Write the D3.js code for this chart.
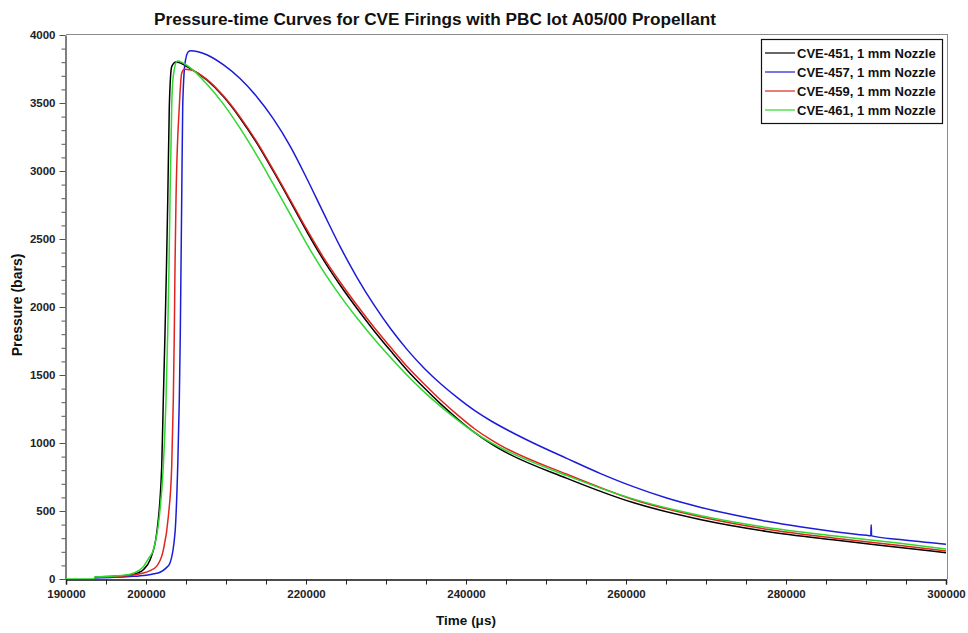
<!DOCTYPE html>
<html>
<head>
<meta charset="utf-8">
<script src="https://cdn.jsdelivr.net/npm/d3@7/dist/d3.min.js"></script>
<style>
  html, body { margin: 0; padding: 0; background: #fff; }
  svg { display: block; }
  text { font-family: "Liberation Sans", Arial, Helvetica, sans-serif; font-weight: bold; }
</style>
</head>
<body>
<svg id="chart" width="968" height="633"></svg>
<script>
// Pressure-time records, [time in microseconds, pressure in bars]
const cve451 = [
  [193600, 15], [196000, 20], [198000, 30], [199000, 45], [199700, 70],
  [200500, 140], [201338, 338], [201963, 826], [202163, 1316], [202375, 1809],
  [202560, 2296], [202720, 2787], [202913, 3473], [203213, 3767], [203750, 3801],
  [205500, 3755], [207600, 3669], [209700, 3545], [211750, 3390], [213800, 3210],
  [215900, 3000], [218000, 2780], [220100, 2555], [222200, 2345], [224300, 2158],
  [226400, 1987], [228500, 1826], [230600, 1676], [232700, 1532], [234800, 1404],
  [236900, 1284], [239000, 1175], [241100, 1076], [243200, 992], [244250, 955],
  [252625, 740], [260875, 562], [269250, 438], [277625, 350], [285875, 288],
  [294250, 232], [300000, 193]
];
const cve457 = [
  [193600, 8], [196000, 12], [198000, 18], [200000, 28], [201000, 38],
  [201750, 50], [202500, 80], [203000, 118], [203625, 338], [203963, 826],
  [204163, 1316], [204288, 1809], [204375, 2296], [204463, 2787], [204588, 3473],
  [204875, 3792], [205288, 3877], [205588, 3885], [207600, 3855], [209700, 3780],
  [211750, 3680], [213800, 3550], [215900, 3385], [218000, 3185], [220100, 2945],
  [222200, 2690], [224300, 2440], [226400, 2215], [228500, 2015], [230600, 1838],
  [232700, 1683], [234800, 1548], [236900, 1432], [239000, 1330], [241100, 1238],
  [243200, 1160], [245300, 1092], [248413, 1000], [252588, 887], [256750, 777],
  [260913, 679], [265088, 595], [269250, 528], [273413, 472], [277588, 424],
  [281750, 384], [285913, 350], [290088, 321], [290600, 318], [290650, 398],
  [290700, 317], [294250, 290], [300000, 255]
];
const cve459 = [
  [193600, 12], [196000, 16], [198000, 25], [199500, 42], [200500, 62],
  [201338, 95], [202163, 213], [202788, 458], [203213, 826], [203413, 1316],
  [203538, 1809], [203625, 2296], [203750, 2787], [204163, 3473], [204463, 3718],
  [204788, 3748], [205500, 3745], [207600, 3674], [209700, 3551], [211750, 3398],
  [213800, 3219], [215900, 3010], [218000, 2792], [220100, 2570], [222200, 2363],
  [224300, 2180], [226400, 2011], [228500, 1851], [230600, 1702], [232700, 1559],
  [234800, 1432], [236900, 1312], [239000, 1203], [241100, 1103], [243200, 1021],
  [244250, 985], [252625, 770], [260875, 585], [269250, 458], [277625, 366],
  [285875, 302], [294250, 246], [300000, 206]
];
const cve461 = [
  [190000, 0], [193500, 0], [193600, 15], [196000, 22], [198000, 35],
  [199000, 60], [199663, 90], [200300, 150], [200913, 213], [201663, 458],
  [202163, 826], [202500, 1316], [202713, 1809], [202875, 2296], [203000, 2787],
  [203213, 3473], [203413, 3700], [203913, 3809], [205500, 3760], [207600, 3639],
  [209700, 3490], [211750, 3315], [213800, 3120], [215900, 2905], [218000, 2685],
  [220100, 2463], [222200, 2260], [224300, 2080], [226400, 1917], [228500, 1766],
  [230600, 1626], [232700, 1494], [234800, 1374], [236900, 1266], [239000, 1167],
  [241100, 1076], [243200, 1000], [244250, 967], [252625, 760], [260875, 589],
  [269250, 467], [277625, 379], [285875, 318], [294250, 262], [300000, 221]
];

const seriesNames = ["CVE-451, 1 mm Nozzle", "CVE-457, 1 mm Nozzle", "CVE-459, 1 mm Nozzle", "CVE-461, 1 mm Nozzle"];
const seriesColors = ["#000000", "#1c1cd8", "#e0241f", "#2ed82e"];
const seriesData = [cve451, cve457, cve459, cve461];

const xTickValues = d3.range(190000, 300001, 5000);
const xTickLabels = [190000, 200000, 220000, 240000, 260000, 280000, 300000];
const yTickValues = d3.range(0, 4001, 100);
const yTickLabels = [0, 500, 1000, 1500, 2000, 2500, 3000, 3500, 4000];

const titleText = "Pressure-time Curves for CVE Firings with PBC lot A05/00 Propellant";
const xTitle = "Time (\u03bcs)";
const yTitle = "Pressure (bars)";

const svg = d3.select("#chart");
const plot = { left: 66, right: 946, top: 35, bottom: 579 };

const x = d3.scaleLinear().domain([190000, 300000]).range([plot.left, plot.right]);
const y = d3.scaleLinear().domain([0, 4000]).range([plot.bottom, plot.top]);

// frame: gray top and right edges
svg.append("line").attr("x1", plot.left).attr("x2", plot.right + 1)
  .attr("y1", plot.top - 0.5).attr("y2", plot.top - 0.5)
  .attr("stroke", "#8a8a8a").attr("stroke-width", 1);
svg.append("line").attr("x1", plot.right + 1.5).attr("x2", plot.right + 1.5)
  .attr("y1", plot.top - 1).attr("y2", plot.bottom)
  .attr("stroke", "#8a8a8a").attr("stroke-width", 1);

// y axis with minor ticks every 100
const yAxis = d3.axisLeft(y)
  .tickValues(yTickValues)
  .tickSize(0)
  .tickPadding(10)
  .tickFormat(d => yTickLabels.includes(d) ? d : "");
const gy = svg.append("g").attr("transform", `translate(${plot.left - 0.5},0)`).call(yAxis);
gy.select(".domain").attr("stroke", "#555").attr("stroke-width", 1.5);
gy.selectAll(".tick line")
  .attr("x2", d => yTickLabels.includes(d) ? -6 : -4)
  .attr("stroke", "#555");
gy.selectAll(".tick text").attr("font-size", "11.5px").attr("fill", "#222")
  .attr("font-family", "'Liberation Sans', Arial, sans-serif").attr("font-weight", "bold");

// x axis with ticks every 5000
const xAxis = d3.axisBottom(x)
  .tickValues(xTickValues)
  .tickSize(5)
  .tickPadding(5)
  .tickFormat(d => xTickLabels.includes(d) ? d : "");
const gx = svg.append("g").attr("transform", `translate(0,${plot.bottom + 0.5})`).call(xAxis);
gx.select(".domain").attr("stroke", "#111").attr("stroke-width", 1.5);
gx.selectAll(".tick line").attr("stroke", "#222");
gx.selectAll(".tick text").attr("font-size", "11.5px").attr("fill", "#222")
  .attr("font-family", "'Liberation Sans', Arial, sans-serif").attr("font-weight", "bold");

// curves
const line = d3.line()
  .x(d => x(d[0]))
  .y(d => y(d[1]))
  .curve(d3.curveMonotoneX);

svg.append("clipPath").attr("id", "plotclip")
  .append("rect").attr("x", plot.left).attr("y", plot.top - 2)
  .attr("width", plot.right - plot.left + 1).attr("height", plot.bottom - plot.top + 2);

svg.append("g").attr("clip-path", "url(#plotclip)")
  .selectAll("path.curve")
  .data(seriesData)
  .join("path")
  .attr("class", "curve")
  .attr("d", line)
  .attr("fill", "none")
  .attr("stroke", (d, i) => seriesColors[i])
  .attr("stroke-width", 1.5)
  .attr("stroke-linejoin", "round");

// title and axis titles
svg.append("text").attr("x", 435).attr("y", 25)
  .attr("text-anchor", "middle").attr("font-size", "17.2px").attr("fill", "#111")
  .text(titleText);
svg.append("text").attr("x", 466).attr("y", 625)
  .attr("text-anchor", "middle").attr("font-size", "13.5px").attr("fill", "#111")
  .text(xTitle);
svg.append("text")
  .attr("transform", `translate(22,${305}) rotate(-90)`)
  .attr("text-anchor", "middle").attr("font-size", "14px").attr("fill", "#111")
  .text(yTitle);

// legend
const legend = svg.append("g");
legend.append("rect")
  .attr("x", 761.5).attr("y", 39.5).attr("width", 181).attr("height", 84)
  .attr("fill", "#fff").attr("stroke", "#111").attr("stroke-width", 1.2);
const rowY = [53, 72, 91, 110];
seriesNames.forEach((name, i) => {
  legend.append("line")
    .attr("x1", 765).attr("x2", 795)
    .attr("y1", rowY[i]).attr("y2", rowY[i])
    .attr("stroke", seriesColors[i]).attr("stroke-width", 1.2);
  legend.append("text")
    .attr("x", 797).attr("y", rowY[i] + 4.5)
    .attr("font-size", "13px").attr("fill", "#111")
    .text(name);
});
</script>
</body>
</html>
